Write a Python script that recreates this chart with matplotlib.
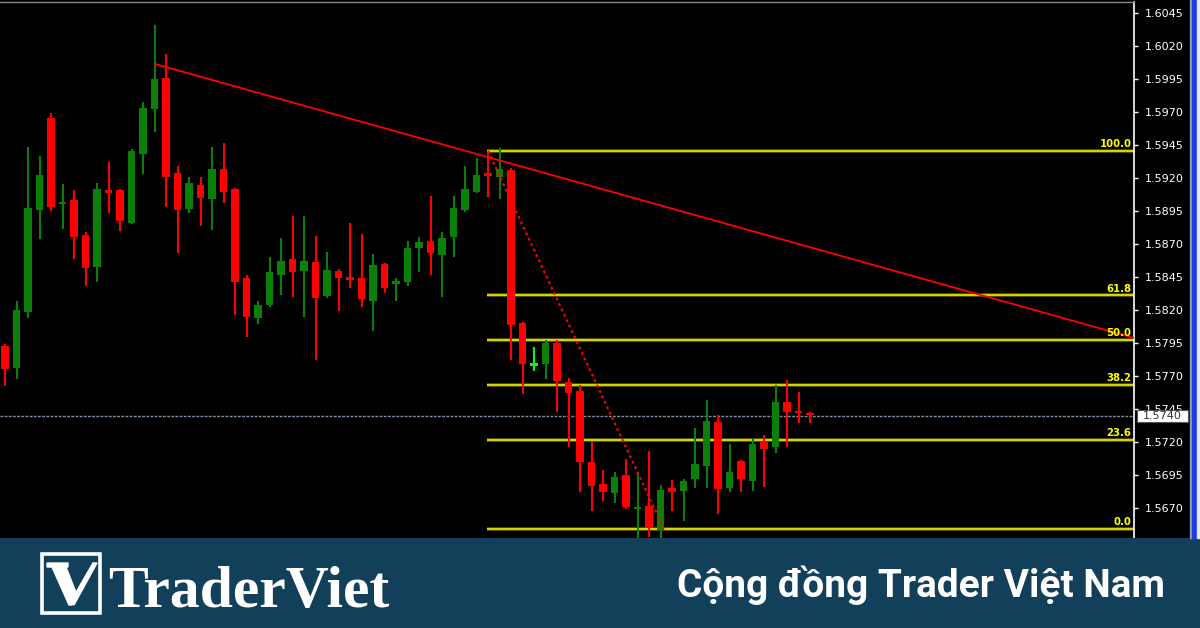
import matplotlib.pyplot as plt
from matplotlib.patches import Rectangle, Polygon
import numpy as np

# du lieu nen (open, high, low, close) doc tu hinh
opens = [1.57927, 1.57761, 1.58185, 1.58958, 1.59655, 1.59003, 1.59033, 1.58768, 1.58526, 1.59109,
         1.59109, 1.58859, 1.59382, 1.59723, 1.59958, 1.59238, 1.58965, 1.59147, 1.59041, 1.59268,
         1.59117, 1.58442, 1.58139, 1.58238, 1.58465, 1.58586, 1.58495, 1.58564, 1.58306, 1.58495,
         1.58442, 1.58442, 1.58268, 1.58549, 1.58397, 1.58412, 1.58670, 1.58723, 1.58617, 1.58753,
         1.58958, 1.59094, 1.59238, 1.59208, 1.59261, 1.58102, 1.57776, 1.57791, 1.57950, 1.57655,
         1.57586, 1.57048, 1.56882, 1.56814, 1.56950, 1.56692, 1.56715, 1.56533, 1.56852, 1.56829,
         1.56920, 1.57018, 1.57352, 1.56852, 1.57056, 1.56905, 1.57200, 1.57162, 1.57503, 1.57435,
         1.57420]
highs = [1.57942, 1.58268, 1.59435, 1.59367, 1.59692, 1.59155, 1.59109, 1.58791, 1.59162, 1.59321,
         1.59115, 1.59420, 1.59776, 1.60359, 1.60139, 1.59291, 1.59208, 1.59208, 1.59435, 1.59465,
         1.59125, 1.58465, 1.58268, 1.58602, 1.58745, 1.58912, 1.58912, 1.58761, 1.58639, 1.58511,
         1.58859, 1.58776, 1.58624, 1.58556, 1.58442, 1.58723, 1.58753, 1.59064, 1.58791, 1.59064,
         1.59291, 1.59352, 1.59397, 1.59427, 1.59276, 1.58110, 1.57920, 1.57973, 1.57973, 1.57685,
         1.57632, 1.57208, 1.56988, 1.56973, 1.57071, 1.56958, 1.57132, 1.56874, 1.56912, 1.56920,
         1.57306, 1.57518, 1.57405, 1.57185, 1.57064, 1.57223, 1.57253, 1.57632, 1.57670, 1.57579,
         1.57427]
lows = [1.57624, 1.57677, 1.58139, 1.58738, 1.58950, 1.58814, 1.58586, 1.58382, 1.58412, 1.58935,
        1.58798, 1.58850, 1.59230, 1.59548, 1.58980, 1.58632, 1.58935, 1.58836, 1.58806, 1.59011,
        1.58162, 1.57995, 1.58094, 1.58223, 1.58314, 1.58298, 1.58147, 1.57821, 1.58291, 1.58192,
        1.58367, 1.58223, 1.58041, 1.58329, 1.58268, 1.58382, 1.58488, 1.58465, 1.58298, 1.58602,
        1.58943, 1.59090, 1.59056, 1.59041, 1.57821, 1.57564, 1.57738, 1.57677, 1.57427, 1.57162,
        1.56821, 1.56677, 1.56753, 1.56738, 1.56693, 1.56420, 1.56480, 1.56420, 1.56677, 1.56602,
        1.56852, 1.56852, 1.56655, 1.56821, 1.56821, 1.56829, 1.56859, 1.57117, 1.57162, 1.57344,
        1.57344]
closes = [1.57753, 1.58200, 1.58973, 1.59223, 1.58980, 1.59018, 1.58753, 1.58518, 1.59117, 1.59086,
          1.58874, 1.59405, 1.59730, 1.59950, 1.59208, 1.58958, 1.59162, 1.59048, 1.59268, 1.59094,
          1.58412, 1.58147, 1.58238, 1.58488, 1.58571, 1.58488, 1.58571, 1.58291, 1.58503, 1.58442,
          1.58435, 1.58283, 1.58541, 1.58367, 1.58420, 1.58670, 1.58715, 1.58632, 1.58745, 1.58973,
          1.59117, 1.59223, 1.59215, 1.59268, 1.58086, 1.57791, 1.57799, 1.57950, 1.57662, 1.57571,
          1.57048, 1.56867, 1.56821, 1.56935, 1.56708, 1.56708, 1.56549, 1.56836, 1.56821, 1.56905,
          1.57033, 1.57359, 1.56844, 1.56973, 1.56920, 1.57185, 1.57147, 1.57503, 1.57427, 1.57420,
          1.57405]

# fibonacci va duong xu huong
fib_levels = [0.0, 23.6, 38.2, 50.0, 61.8, 100.0]
fib_high = 1.59405
fib_low = 1.56541
fib_start = 41.9
trend_x = [13.04, 98.2]
trend_y = [1.60064, 1.57988]
swing_x = [42.0, 57.3]
swing_y = [fib_high, fib_low]
current_price = 1.5740
price_ticks = [1.6045, 1.6020, 1.5995, 1.5970, 1.5945, 1.5920, 1.5895, 1.5870,
               1.5845, 1.5820, 1.5795, 1.5770, 1.5745, 1.5720, 1.5695, 1.5670]

W, H = 1200, 628
fig = plt.figure(figsize=(12, 6.28), dpi=100, facecolor='black')

# khung bieu do chinh
ax = fig.add_axes([0, 1 - 538 / H, 1134 / W, 536 / H])
ax.set_facecolor('black')
ax.set_xlim(-0.435, 98.17)
ax.set_ylim(1.564727, 1.605333)

o = np.array(opens)
c = np.array(closes)
x = np.arange(len(o))
up = c >= o
cols = np.where(up, '#0a800a', '#ff0000').astype(object)
cols[46] = '#00ff00'  # nen doji mau xanh sang

ax.vlines(x, lows, highs, colors=list(cols), lw=1.5, zorder=3)
h = np.abs(c - o)
h_min = 0.00018
bottoms = np.where(h < h_min, (o + c) / 2 - h_min / 2, np.minimum(o, c))
ax.bar(x, np.maximum(h, h_min), bottom=bottoms, width=0.68, color=list(cols), lw=0, zorder=4)

# cac muc fibonacci
for lvl in fib_levels:
    p = fib_low + lvl / 100 * (fib_high - fib_low)
    ax.hlines(p, fib_start, 98.17, color='#4a4a00', lw=3.0, zorder=2)
    ax.hlines(p, fib_start, 98.17, color='#ffff00', lw=1.1, zorder=2)
    ax.text(97.95, p + 0.00012, f'{lvl:.1f}', color='#ffff00', fontsize=7.3, fontweight='bold',
            ha='right', va='bottom', zorder=6)

# duong xu huong va duong cham
ax.plot(trend_x, trend_y, color='#ff0000', lw=1.3, zorder=5)
ax.plot(swing_x, swing_y, color='#ff0000', lw=1.6, ls=(0, (1.2, 1.5)), zorder=5)

# gia hien tai
ax.axhline(current_price, color='#7d8ea3', lw=1, ls=(0, (2, 1)), zorder=1)
box_h = 12 / 13200
ax.add_patch(Rectangle((1137 / 1134, current_price - box_h / 2), 51 / 1134, box_h,
                       transform=ax.get_yaxis_transform(), clip_on=False,
                       fc='white', ec='#555555', lw=0.8, zorder=8))
ax.text(1137 / 1134 + 25.5 / 1134, current_price, f'{current_price:.4f}',
        transform=ax.get_yaxis_transform(), ha='center', va='center',
        fontsize=8, color='#333333', zorder=9, clip_on=False)

# truc gia ben phai
ax.yaxis.tick_right()
ax.set_yticks(price_ticks)
ax.yaxis.set_major_formatter(lambda v, pos: f'{v:.4f}')
ax.tick_params(axis='y', colors='white', length=3, width=1, labelsize=8, pad=5)
ax.set_xticks([])
for s in ['left', 'bottom']:
    ax.spines[s].set_visible(False)
ax.spines['right'].set_color('white')
ax.spines['right'].set_linewidth(1.2)
ax.spines['top'].set_color('#8a8a8a')
ax.spines['top'].set_linewidth(1)

# vien cua so ben phai
fig.add_artist(Rectangle((1190 / W, 90 / H), 1.5 / W, 538 / H, transform=fig.transFigure, color='#a0a0a0'))
fig.add_artist(Rectangle((1192 / W, 90 / H), 5 / W, 538 / H, transform=fig.transFigure, color='#1a3cf0'))
fig.add_artist(Rectangle((1197 / W, 90 / H), 3 / W, 538 / H, transform=fig.transFigure, color='#e8e8e8'))

# banner phia duoi
bax = fig.add_axes([0, 0, 1, 90 / H])
bax.set_xlim(0, 1200)
bax.set_ylim(0, 90)
bax.axis('off')
bax.add_patch(Rectangle((0, 0), 1200, 90, color='#123f5a'))
bax.add_patch(Rectangle((41.7, 14.7), 58.6, 59.6, fill=False, ec='white', lw=2.6))
bax.add_patch(Polygon([(47, 65), (68, 65), (68, 61), (66, 61), (77, 33), (72, 23), (69, 23),
                       (52, 61), (47, 61)], closed=True, color='white'))
bax.add_patch(Polygon([(93, 65), (97, 65), (74, 23), (71, 27)], closed=True, color='white'))
bax.text(108, 21, 'TraderViet', family='Liberation Serif', fontweight='bold', fontsize=43,
         color='white', ha='left', va='baseline')
bax.text(1165, 31, 'Cộng đồng Trader Việt Nam', family='Roboto', fontweight='bold',
         fontsize=28, color='white', ha='right', va='baseline')

fig.savefig('out.png', dpi=100, facecolor='black')
